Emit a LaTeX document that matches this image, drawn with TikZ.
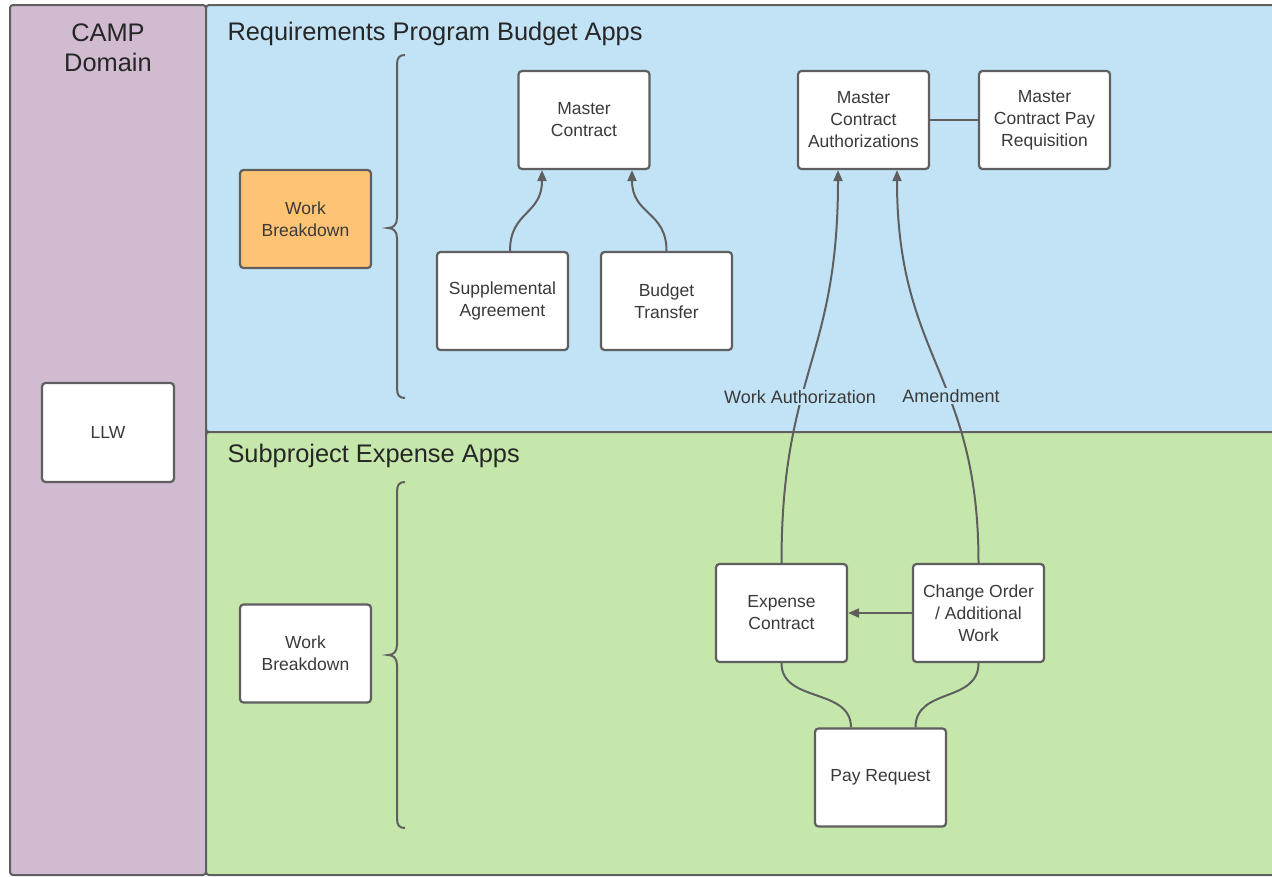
\documentclass[tikz,border=0pt]{standalone}
\usepackage{fontspec}
\setmainfont{Liberation Sans}
\usetikzlibrary{arrows.meta}
\definecolor{purplebg}{HTML}{D1BBD1}
\definecolor{bluebg}{HTML}{C1E3F5}
\definecolor{greenbg}{HTML}{C6E7AB}
\definecolor{orangebox}{HTML}{FFC374}
\definecolor{linegray}{HTML}{5F5F5F}
\definecolor{textgray}{HTML}{3A3A3A}
\tikzset{
  panel/.style={draw=linegray, line width=2pt, rounded corners=3pt},
  appbox/.style={draw=linegray, line width=2.2pt, fill=white, rounded corners=3.5pt,
    minimum width=131pt, minimum height=98pt, align=center, inner sep=2pt,
    font=\fontsize{17.5}{22}\selectfont, text=textgray},
  titletext/.style={font=\fontsize{25.4}{30}\selectfont, text=black!85, align=center},
  conn/.style={draw=linegray, line width=2pt},
  arr/.style={conn, -{Triangle[length=11pt,width=9pt]}},
  edgelabel/.style={font=\fontsize{18}{20}\selectfont, text=textgray, inner sep=1pt},
  bracepath/.style={draw=linegray, line width=2pt}
}
\begin{document}
\begin{tikzpicture}[x=1pt,y=-1pt]
\useasboundingbox (0,0) rectangle (1272,876);
\fill[white] (0,0) rectangle (1272,876);
\begin{scope}
\clip (0,0) rectangle (1272,876);
% panels
\path[panel, fill=purplebg] (10,5) rectangle (206,875);
\path[panel, fill=bluebg] (206,5) rectangle (1300,432);
\path[panel, fill=greenbg] (206,432) rectangle (1300,875);
\end{scope}

% titles
\node[titletext] (camp) at (108,48) {CAMP\\Domain};
\node[titletext, anchor=west] (reqtitle) at (224,33.5) {Requirements Program Budget Apps};
\node[titletext, anchor=west] (subtitle) at (224,455.5) {Subproject Expense Apps};

% braces
\draw[bracepath] (405,55) .. controls (399,55) and (397,58) .. (397,65) -- (397,218)
  .. controls (397,225) and (393,228) .. (388,228)
  .. controls (393,228) and (397,231) .. (397,238) -- (397,388)
  .. controls (397,395) and (399,398) .. (405,398);
\draw[bracepath] (405,482) .. controls (399,482) and (397,485) .. (397,492) -- (397,645)
  .. controls (397,652) and (393,655) .. (388,655)
  .. controls (393,655) and (397,658) .. (397,665) -- (397,818)
  .. controls (397,825) and (399,828) .. (405,828);

% boxes
\node[appbox, minimum width=132pt, minimum height=99pt] (llw) at (108,432.5) {LLW};
\node[appbox, fill=orangebox] (wb1) at (305.5,219) {Work\\Breakdown};
\node[appbox] (wb2) at (305.5,653.5) {Work\\Breakdown};
\node[appbox] (mc) at (584,120) {Master\\Contract};
\node[appbox] (sa) at (502.5,301) {Supplemental\\Agreement};
\node[appbox] (bt) at (666.5,301) {Budget\\Transfer};
\node[appbox] (mca) at (863.5,120) {Master\\Contract\\Authorizations};
\node[appbox] (mcpr) at (1044.5,120) {Master\\Contract Pay\\Requisition};
\node[appbox] (ec) at (781.5,613) {Expense\\Contract};
\node[appbox] (co) at (978.5,613) {Change Order\\/ Additional\\Work};
\node[appbox] (pr) at (880.5,777.5) {Pay Request};

% connectors
\draw[arr] ([xshift=7.5pt]sa.north) .. controls +(0,-40) and +(0,45) .. ([xshift=-42pt]mc.south);
\draw[arr] (bt.north) .. controls +(0,-40) and +(0,45) .. ([xshift=48pt]mc.south);
\draw[arr] (ec.north) .. controls +(0,-190) and +(0,190) .. ([xshift=-25.5pt]mca.south);
\draw[arr] (co.north) .. controls +(0,-190) and +(0,190) .. ([xshift=33.5pt]mca.south);
\draw[conn] (mca) -- (mcpr);
\draw[arr] (co.west) -- (ec.east);
\draw[conn] (ec.south) .. controls +(0,40) and +(0,-40) .. ([xshift=-29.5pt]pr.north);
\draw[conn] (co.south) .. controls +(0,40) and +(0,-40) .. ([xshift=35pt]pr.north);

% connector labels
\node[edgelabel, fill=bluebg] (lwa) at (800,397) {Work Authorization};
\node[edgelabel, fill=bluebg] (lam) at (951,396) {Amendment};
\end{tikzpicture}
\end{document}
